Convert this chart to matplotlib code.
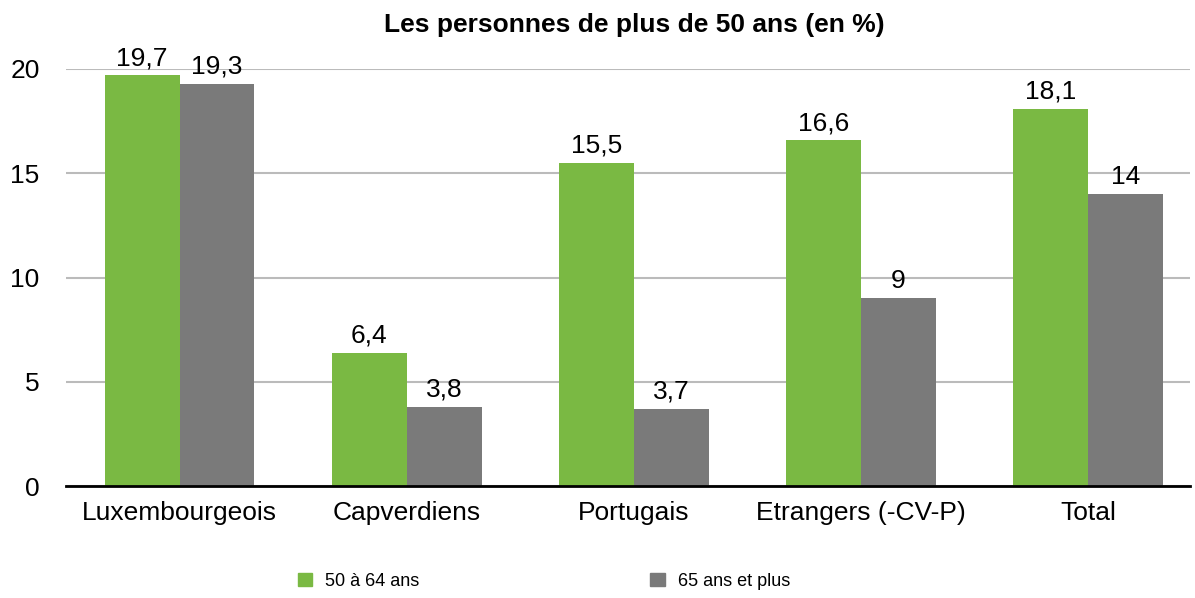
import numpy as np
import matplotlib.pyplot as plt
from matplotlib.patches import Patch

# Data
categories = ["Luxembourgeois", "Capverdiens", "Portugais", "Etrangers (-CV-P)", "Total"]
age_50_64 = [19.7, 6.4, 15.5, 16.6, 18.1]
age_65_plus = [19.3, 3.8, 3.7, 9.0, 14.0]
series_names = ["50 à 64 ans", "65 ans et plus"]

green = "#7AB943"
grey = "#7A7A7A"

plt.rcParams['font.family'] = ['Liberation Sans', 'DejaVu Sans']

fig = plt.figure(figsize=(11.95, 5.98), dpi=100)
ax = fig.add_axes([66 / 1195, 1 - 486 / 598, 1124 / 1195, 417 / 598])

x = np.arange(len(categories))
w = 0.33
b1 = ax.bar(x - w / 2, age_50_64, w, color=green, zorder=3)
b2 = ax.bar(x + w / 2, age_65_plus, w, color=grey, zorder=3)


def fmt(v):
    return f"{v:g}".replace(".", ",")


# value labels above each bar
for bars, vals in [(b1, age_50_64), (b2, age_65_plus)]:
    for r, v in zip(bars, vals):
        ax.annotate(fmt(v), (r.get_x() + r.get_width() / 2, v),
                    xytext=(0, 3.5), textcoords="offset points",
                    ha="center", va="bottom", fontsize=19, clip_on=False)

ax.set_xlim(-0.5, 4.45)
ax.set_ylim(0, 20)
ax.set_yticks([0, 5, 10, 15, 20])
ax.set_xticks(x)
ax.set_xticklabels(categories, fontsize=19)
ax.tick_params(axis="y", labelsize=19, length=0, pad=19)
ax.tick_params(axis="x", length=0, pad=10.5)
ax.grid(axis="y", color="#BBBBBB", linewidth=1.5, zorder=0)
for s in ["top", "right", "left"]:
    ax.spines[s].set_visible(False)
ax.spines["bottom"].set_linewidth(2)
ax.spines["bottom"].set_zorder(4)

fig.text(0.531, 0.958, "Les personnes de plus de 50 ans (en %)",
         ha="center", va="center", fontsize=19, fontweight="bold")

handles = [Patch(color=green), Patch(color=grey)]
fig.legend(handles, series_names, loc="center left", bbox_to_anchor=(298 / 1195, 0.028),
           ncol=2, frameon=False, fontsize=13, handlelength=0.8, handleheight=0.8,
           handletextpad=0.7, columnspacing=12.8, borderpad=0, borderaxespad=0)

fig.savefig("out.png", dpi=100)
